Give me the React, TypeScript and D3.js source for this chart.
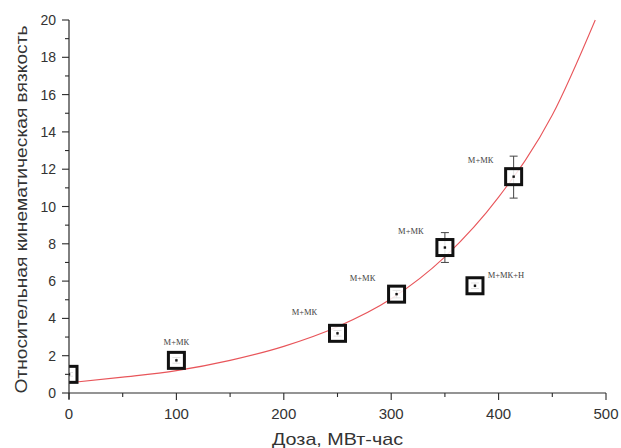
import React from "react";
import { scaleLinear, line, curveMonotoneX, range } from "d3";

// measured points: dose (MW·h) vs relative kinematic viscosity
const doses = [0, 100, 250, 305, 350, 378, 414];
const viscosity = [1.0, 1.75, 3.2, 5.3, 7.8, 5.75, 11.6];
const errLow = [0.9, 1.6, 3.05, 5.1, 7.0, 5.6, 10.45];
const errHigh = [1.1, 1.9, 3.35, 5.5, 8.6, 5.9, 12.7];
const pointLabels = ["", "М+МК", "М+МК", "М+МК", "М+МК", "М+МК+Н", "М+МК"];

// red fitted curve
const fitX = [0, 50, 100, 150, 200, 250, 300, 350, 400, 450, 490];
const fitY = [0.55, 0.85, 1.2, 1.75, 2.5, 3.55, 5.05, 7.3, 10.5, 14.9, 20];

const xTicks = [0, 100, 200, 300, 400, 500];
const yTicks = [0, 2, 4, 6, 8, 10, 12, 14, 16, 18, 20];

const W = 621;
const H = 448;
const margin = { top: 20, right: 15, bottom: 55, left: 69 };

export default function App() {
  const x = scaleLinear().domain([0, 500]).range([margin.left, W - margin.right]);
  const y = scaleLinear().domain([0, 20]).range([H - margin.bottom, margin.top]);

  const fitPath =
    line<number>()
      .x((_, i) => x(fitX[i]))
      .y((d) => y(d))
      .curve(curveMonotoneX)(fitY) ?? "";

  const axisColor = "#2a2a2a";
  const x0 = x(0);
  const y0 = y(0);

  // label offsets (px) relative to each marker
  const labelDx = [0, 0, -33, -34, -34, 31, -33];
  const labelDy = [0, -17, -20, -15, -15, -10, -16];

  return (
    <svg
      width={W}
      height={H}
      style={{ position: "absolute", left: 0, top: 0, background: "#fff" }}
      fontFamily="'Liberation Sans', Arial, sans-serif"
    >
      <defs>
        <clipPath id="plot">
          <rect x={x0} y={0} width={W - x0} height={y0} />
        </clipPath>
      </defs>

      {/* fitted curve */}
      <path d={fitPath} fill="none" stroke="#e8555a" strokeWidth={1.1} clipPath="url(#plot)" />

      {/* error bars */}
      {doses.map((d, i) => (
        <g key={"e" + i} stroke="#444" strokeWidth={1} clipPath="url(#plot)">
          <line x1={x(d)} x2={x(d)} y1={y(errLow[i])} y2={y(errHigh[i])} />
          <line x1={x(d) - 4} x2={x(d) + 4} y1={y(errLow[i])} y2={y(errLow[i])} />
          <line x1={x(d) - 4} x2={x(d) + 4} y1={y(errHigh[i])} y2={y(errHigh[i])} />
        </g>
      ))}

      {/* square markers */}
      {doses.map((d, i) => (
        <g key={"m" + i} clipPath="url(#plot)">
          <rect
            x={x(d) - 8}
            y={y(viscosity[i]) - 8}
            width={16}
            height={16}
            fill="#fff"
            fillOpacity={0.85}
            stroke="#111"
            strokeWidth={3}
          />
          <rect x={x(d) - 1.2} y={y(viscosity[i]) - 1.2} width={2.4} height={2.4} fill="#111" />
        </g>
      ))}

      {/* point labels */}
      {doses.map((d, i) =>
        pointLabels[i] ? (
          <text
            key={"l" + i}
            x={x(d) + labelDx[i]}
            y={y(viscosity[i]) + labelDy[i]}
            textAnchor="middle"
            dominantBaseline="middle"
            fontFamily="'Liberation Serif', 'Times New Roman', serif"
            fontSize={8.5}
            fill="#444"
          >
            {pointLabels[i]}
          </text>
        ) : null
      )}

      {/* y axis */}
      <line x1={x0} x2={x0} y1={y(20)} y2={y0 + 6} stroke={axisColor} strokeWidth={1.2} />
      {range(0, 21, 1).map((v) => (
        <line
          key={"yt" + v}
          x1={x0}
          x2={x0 - (v % 2 === 0 ? 7 : 4)}
          y1={y(v)}
          y2={y(v)}
          stroke={axisColor}
          strokeWidth={1.1}
        />
      ))}
      {yTicks.map((v) => (
        <text
          key={"yl" + v}
          x={x0 - 13}
          y={y(v)}
          textAnchor="end"
          dominantBaseline="central"
          fontSize={14}
          fill="#333"
        >
          {v}
        </text>
      ))}

      {/* x axis */}
      <line x1={x0} x2={x(500)} y1={y0} y2={y0} stroke={axisColor} strokeWidth={1.2} />
      {range(0, 501, 50).map((v) => (
        <line
          key={"xt" + v}
          x1={x(v)}
          x2={x(v)}
          y1={y0}
          y2={y0 + (v % 100 === 0 ? 7 : 4)}
          stroke={axisColor}
          strokeWidth={1.1}
        />
      ))}
      {xTicks.map((v) => (
        <text
          key={"xl" + v}
          x={x(v)}
          y={y0 + 20}
          textAnchor="middle"
          dominantBaseline="central"
          fontSize={15}
          fill="#333"
        >
          {v}
        </text>
      ))}

      {/* axis titles */}
      <text
        x={(x0 + x(500)) / 2}
        y={445}
        textAnchor="middle"
        fontSize={17}
        textLength={131}
        lengthAdjust="spacingAndGlyphs"
        fill="#333"
      >
        Доза, МВт-час
      </text>
      <text
        transform={`translate(27,${(y(20) + y0) / 2 + 3}) rotate(-90)`}
        textAnchor="middle"
        fontSize={17}
        textLength={368}
        lengthAdjust="spacingAndGlyphs"
        fill="#333"
      >
        Относительная кинематическая вязкость
      </text>
    </svg>
  );
}
